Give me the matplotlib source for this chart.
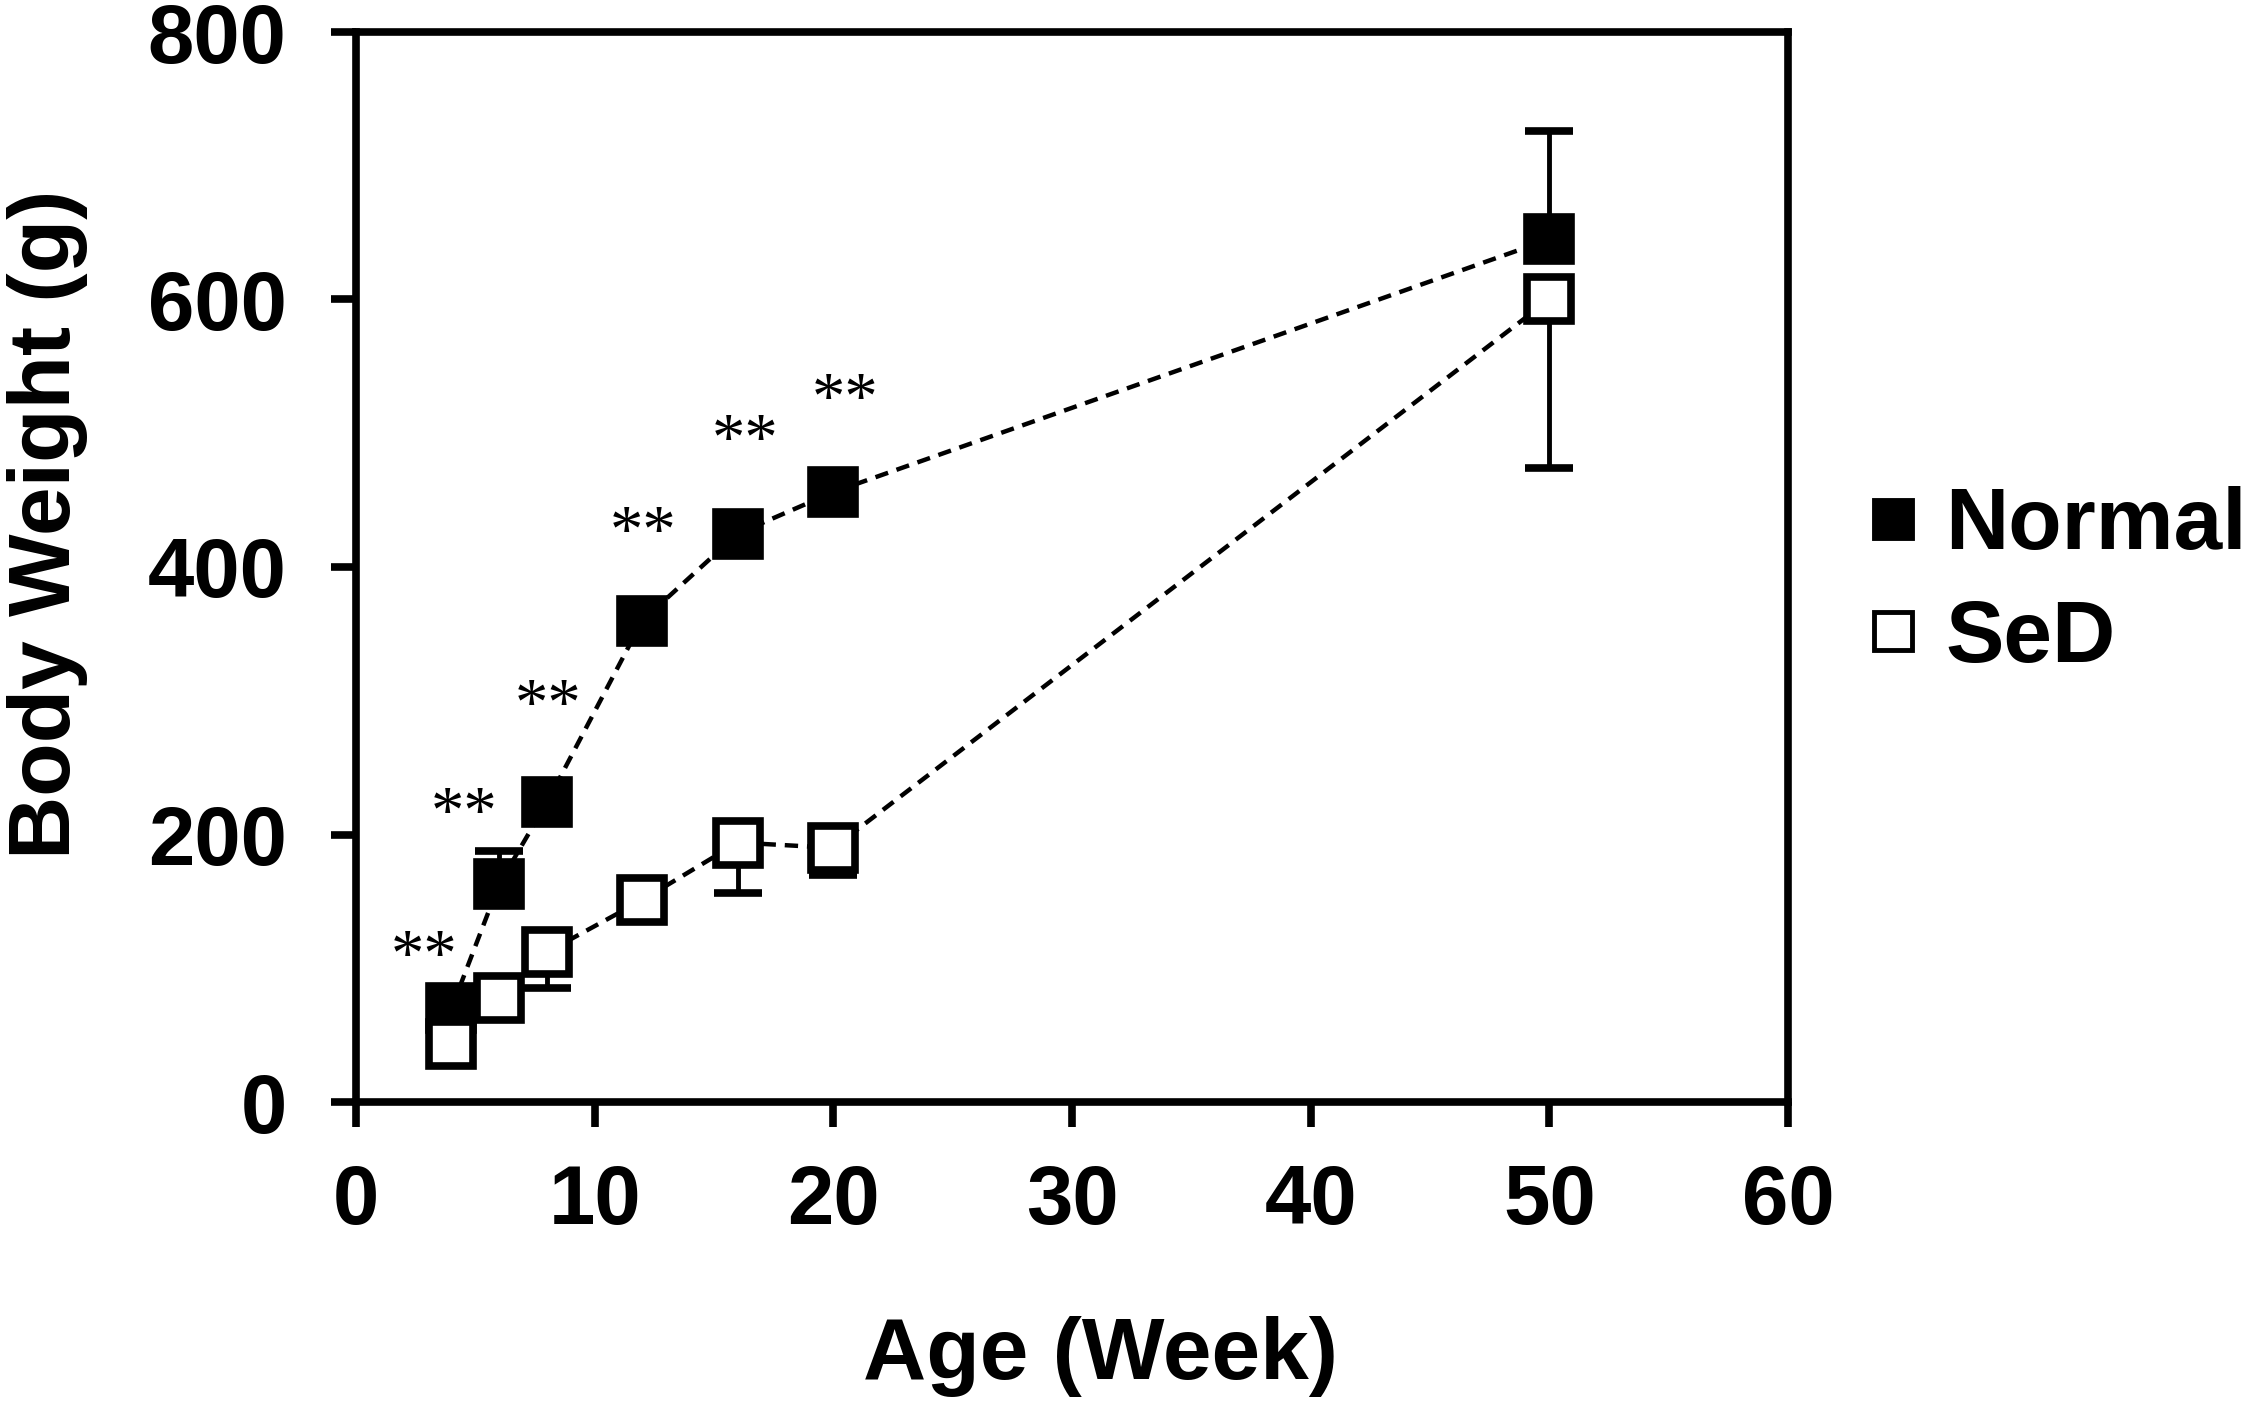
import matplotlib.pyplot as plt

# Age in weeks
age = [4, 6, 8, 12, 16, 20, 50]

# Body weight (g)
normal = [70, 163, 224, 360, 425, 456, 645]
normal_err = [8, 25, 10, 10, 10, 10, 81]
sed = [43, 78, 112, 151, 194, 190, 600]
sed_err = [5, 8, 27, 15, 38, 20, 126]

# significance marks (** over Normal at every age up to 20 weeks)
star_ages = [4, 6, 8, 12, 16, 20]
star_offsets = [(-27, 50), (-35, 68), (1, 95), (1, 86), (7, 91), (12, 91)]

plt.rcParams['font.family'] = ['Liberation Sans', 'DejaVu Sans']
plt.rcParams['font.weight'] = 'bold'

fig = plt.figure(figsize=(22.48, 14.24), dpi=100)
ax = fig.add_axes([356 / 2248, 1 - 1102 / 1424, (1788 - 356) / 2248, (1102 - 32) / 1424])

lw = 3.2
ms = 31
mew = 5.5

ax.errorbar(age, normal, yerr=[[0] * len(age), normal_err], color='black',
            ecolor='black', elinewidth=3.5, capsize=17, capthick=3.5,
            linestyle=(0, (3, 2)), linewidth=lw, marker='s', markersize=ms,
            markerfacecolor='black', markeredgecolor='black', markeredgewidth=mew,
            label='Normal', zorder=3)
ax.errorbar(age, sed, yerr=[sed_err, [0] * len(age)], color='black',
            ecolor='black', elinewidth=3.5, capsize=17, capthick=3.5,
            linestyle=(0, (3, 2)), linewidth=lw, marker='s', markersize=ms,
            markerfacecolor='white', markeredgecolor='black', markeredgewidth=mew,
            label='SeD', zorder=4)

for a, off in zip(star_ages, star_offsets):
    y = normal[age.index(a)]
    ax.annotate('**', xy=(a, y), xytext=off, textcoords='offset pixels',
                ha='center', va='center', fontsize=48, fontweight='normal',
                family='Liberation Serif')

ax.set_xlim(0, 60)
ax.set_ylim(0, 800)
ax.set_xticks(range(0, 61, 10))
ax.set_yticks(range(0, 801, 200))

for s in ax.spines.values():
    s.set_linewidth(5.5)
ax.tick_params(direction='out', length=18, width=5.5, labelsize=60)
ax.tick_params(axis='y', pad=32)
ax.tick_params(axis='x', pad=26)
for lab in ax.get_xticklabels() + ax.get_yticklabels():
    lab.set_fontweight('bold')

ax.set_xlabel('Age (Week)', fontsize=63, fontweight='bold')
ax.set_ylabel('Body Weight (g)', fontsize=63, fontweight='bold')
ax.xaxis.set_label_coords(0.52, -0.20)
ax.yaxis.set_label_coords(-0.187, 0.54)

h, l = ax.get_legend_handles_labels()
h = [x[0] for x in h]
leg = ax.legend(h, l, loc='center left', bbox_to_anchor=(1.0, 0.485), frameon=False,
                fontsize=63, handlelength=0.6, handletextpad=0.3, labelspacing=0.36,
                markerscale=0.9)
for line in leg.get_lines():
    line.set_linestyle('none')
    line.set_markeredgewidth(3.5)
for t in leg.get_texts():
    t.set_fontweight('bold')

fig.savefig('out.png', dpi=100)
